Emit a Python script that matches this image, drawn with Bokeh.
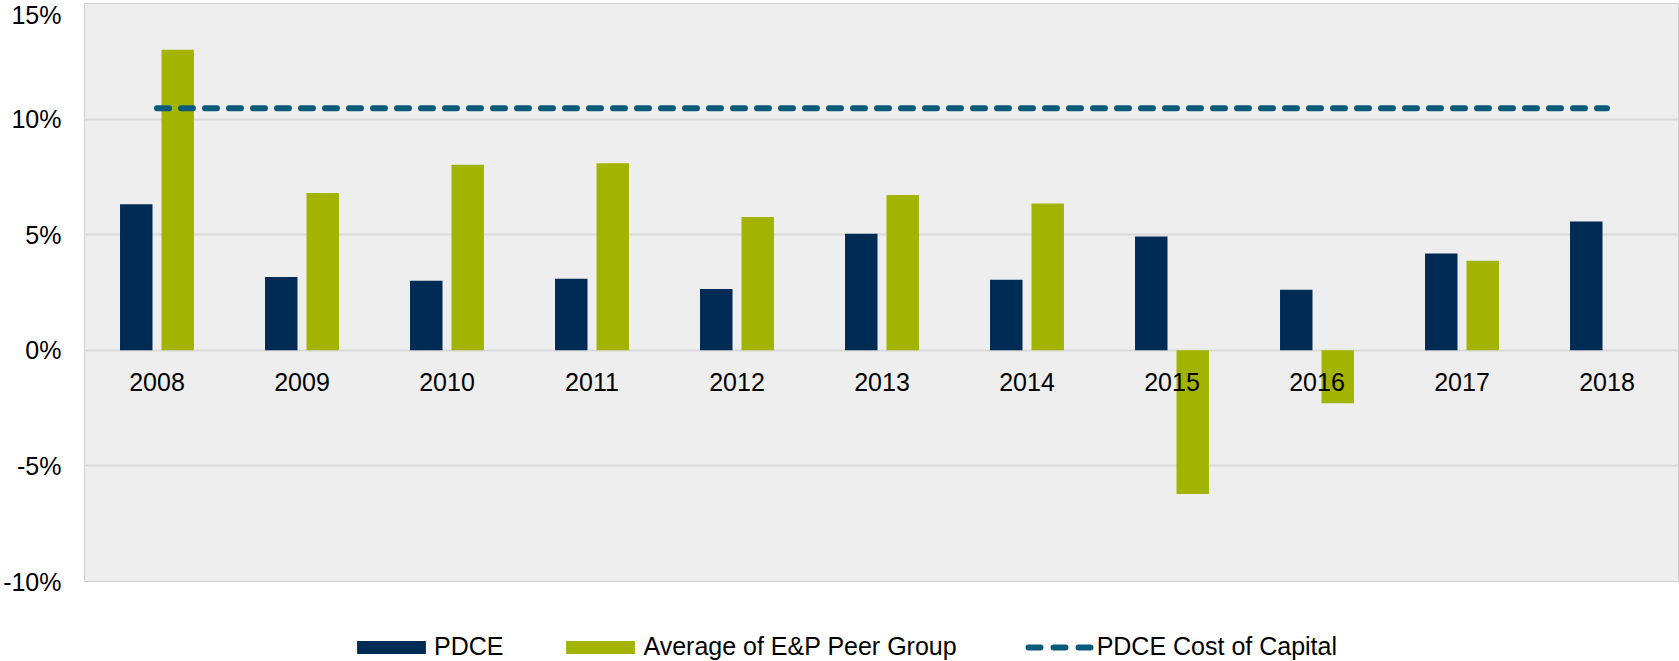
from bokeh.plotting import figure
from bokeh.layouts import column
from bokeh.models import (FactorRange, FixedTicker, PrintfTickFormatter, Legend,
                          LegendItem, GlobalInlineStyleSheet)
from bokeh.transform import dodge
from bokeh.embed import file_html
from bokeh.resources import INLINE

years = ["2008", "2009", "2010", "2011", "2012", "2013", "2014", "2015", "2016", "2017", "2018"]
pdce = [6.32, 3.17, 3.01, 3.10, 2.65, 5.04, 3.05, 4.92, 2.62, 4.19, 5.57]
peer = [13.0, 6.80, 8.03, 8.09, 5.77, 6.72, 6.35, -6.22, -2.29, 3.87, None]
cost_of_capital = [10.47, 10.47, 10.47, 10.47, 10.47, 10.47, 10.47, 10.47, 10.47, 10.47, 10.47]
y_ticks = [-10, -5, 0, 5, 10, 15]
series_names = ["PDCE", "Average of E&P Peer Group", "PDCE Cost of Capital"]

NAVY = "#002b55"
GREEN = "#a2b400"
TEAL = "#0a5b7a"
FONT = "Liberation Sans"

src = dict(years=years, pdce=pdce, peer=[float("nan") if v is None else v for v in peer],
           cost=cost_of_capital)

p = figure(x_range=FactorRange(*years, range_padding=0), y_range=(-10, 15),
           width=1679, height=600, output_backend="svg", toolbar_location=None,
           min_border_left=84, min_border_top=3, min_border_right=0, min_border_bottom=19,
           background_fill_color="#eeeeee", border_fill_color="white")
p.stylesheets = [GlobalInlineStyleSheet(css="html, body { margin: 0 !important; padding: 0 !important; overflow: hidden; }")]

bar_style = [dict(fill_color=NAVY, line_color=None), dict(fill_color=GREEN, line_color=None)]
line_style = dict(line_color=TEAL, line_width=6, line_dash="12 12", line_cap="round")

p.vbar(x=dodge("years", -0.143, range=p.x_range), top="pdce", width=0.224,
       source=src, **bar_style[0])
p.vbar(x=dodge("years", 0.143, range=p.x_range), top="peer", width=0.224,
       source=src, **bar_style[1])
p.line(x="years", y="cost", source=src, **line_style)

p.outline_line_color = "#d0d0d0"
p.outline_line_width = 1

p.xgrid.grid_line_color = None
p.ygrid.grid_line_color = "#d9d9d9"
p.ygrid.grid_line_width = 2
p.ygrid.ticker = FixedTicker(ticks=y_ticks)

p.yaxis.ticker = FixedTicker(ticks=y_ticks)
p.yaxis.formatter = PrintfTickFormatter(format="%d%%")
p.yaxis.axis_line_color = None
p.yaxis.major_tick_line_color = None
p.yaxis.minor_tick_line_color = None
p.yaxis.major_tick_out = 0
p.yaxis.major_tick_in = 0
p.yaxis.major_label_standoff = 23
p.yaxis.major_label_text_font = FONT
p.yaxis.major_label_text_font_size = "25px"
p.yaxis.major_label_text_color = "#000000"

p.xaxis.fixed_location = 0
p.xaxis.axis_line_color = None
p.xaxis.major_tick_line_color = None
p.xaxis.minor_tick_line_color = None
p.xaxis.major_tick_out = 0
p.xaxis.major_tick_in = 0
p.xaxis.major_label_standoff = 23
p.xaxis.major_label_text_font = FONT
p.xaxis.major_label_text_font_size = "25px"
p.xaxis.major_label_text_color = "#000000"

# Legend strip below the chart (its glyphs sit outside the visible y range)
lf = figure(width=1679, height=61, output_backend="svg", toolbar_location=None,
            x_axis_type=None, y_axis_type=None, min_border=0,
            x_range=FactorRange(*years), y_range=(1000, 1001), outline_line_color=None,
            background_fill_color="white", border_fill_color="white")
lf.xgrid.visible = False
lf.ygrid.visible = False
lr1 = lf.vbar(x="years", top="pdce", width=0.2, source=src, **bar_style[0])
lr2 = lf.vbar(x="years", top="peer", width=0.2, source=src, **bar_style[1])
lr3 = lf.line(x="years", y="cost", source=src, line_color=TEAL, line_width=6,
              line_dash="12 13 12 13 12 100", line_dash_offset=145, line_cap="round")

legend = Legend(items=[LegendItem(label=series_names[0], renderers=[lr1]),
                       LegendItem(label=series_names[1], renderers=[lr2]),
                       LegendItem(label=series_names[2], renderers=[lr3])],
                orientation="horizontal", location=(264, 0),
                glyph_width=86, glyph_height=16, label_standoff=0, spacing=54,
                padding=0, margin=0, border_line_color=None, background_fill_alpha=0,
                label_text_font=FONT, label_text_font_size="25px", label_text_color="#000000")
lf.add_layout(legend, "center")

layout = column(p, lf, spacing=0)
open("out.html", "w").write(file_html(layout, INLINE))
